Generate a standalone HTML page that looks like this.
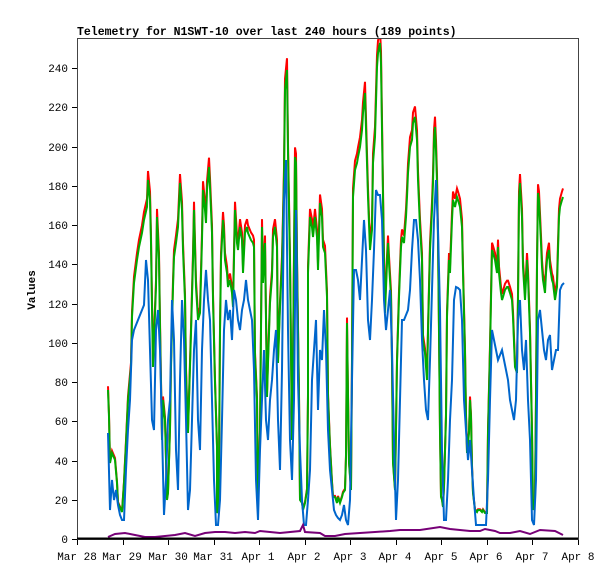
<!DOCTYPE html>
<html><head><meta charset="utf-8"><style>
html,body{margin:0;padding:0;background:#fff;}
svg{display:block;}
text{font-family:"Liberation Mono","DejaVu Sans Mono",monospace;font-size:11px;fill:#000;}
</style></head><body>
<svg width="615" height="579" viewBox="0 0 615 579" xmlns="http://www.w3.org/2000/svg">
<rect x="0" y="0" width="615" height="579" fill="#fff"/>
<text x="77" y="35" font-weight="bold" style="font-size:11.5px">Telemetry for N1SWT-10 over last 240 hours (189 points)</text>
<g stroke="#000" stroke-width="1">
<line x1="72" y1="539.5" x2="77" y2="539.5"/><line x1="72" y1="500.5" x2="77" y2="500.5"/><line x1="72" y1="461.5" x2="77" y2="461.5"/><line x1="72" y1="421.5" x2="77" y2="421.5"/><line x1="72" y1="382.5" x2="77" y2="382.5"/><line x1="72" y1="343.5" x2="77" y2="343.5"/><line x1="72" y1="304.5" x2="77" y2="304.5"/><line x1="72" y1="264.5" x2="77" y2="264.5"/><line x1="72" y1="225.5" x2="77" y2="225.5"/><line x1="72" y1="186.5" x2="77" y2="186.5"/><line x1="72" y1="147.5" x2="77" y2="147.5"/><line x1="72" y1="107.5" x2="77" y2="107.5"/><line x1="72" y1="68.5" x2="77" y2="68.5"/>
</g>
<g text-anchor="end">
<text x="68" y="543">0</text><text x="68" y="504">20</text><text x="68" y="465">40</text><text x="68" y="425">60</text><text x="68" y="386">80</text><text x="68" y="347">100</text><text x="68" y="308">120</text><text x="68" y="268">140</text><text x="68" y="229">160</text><text x="68" y="190">180</text><text x="68" y="151">200</text><text x="68" y="111">220</text><text x="68" y="72">240</text>
</g>
<text x="0" y="0" transform="translate(35,290) rotate(-90)" text-anchor="middle" font-weight="bold">Values</text>
<g stroke="#000" stroke-width="1">
<line x1="77.5" y1="539" x2="77.5" y2="545"/><line x1="123.5" y1="539" x2="123.5" y2="545"/><line x1="168.5" y1="539" x2="168.5" y2="545"/><line x1="214.5" y1="539" x2="214.5" y2="545"/><line x1="259.5" y1="539" x2="259.5" y2="545"/><line x1="305.5" y1="539" x2="305.5" y2="545"/><line x1="350.5" y1="539" x2="350.5" y2="545"/><line x1="396.5" y1="539" x2="396.5" y2="545"/><line x1="441.5" y1="539" x2="441.5" y2="545"/><line x1="487.5" y1="539" x2="487.5" y2="545"/><line x1="532.5" y1="539" x2="532.5" y2="545"/><line x1="578.5" y1="539" x2="578.5" y2="545"/>
</g>
<g text-anchor="middle">
<text x="77" y="560">Mar 28</text><text x="122" y="560">Mar 29</text><text x="168" y="560">Mar 30</text><text x="213" y="560">Mar 31</text><text x="258" y="560">Apr 1</text><text x="304" y="560">Apr 2</text><text x="350" y="560">Apr 3</text><text x="395" y="560">Apr 4</text><text x="441" y="560">Apr 5</text><text x="486" y="560">Apr 6</text><text x="532" y="560">Apr 7</text><text x="578" y="560">Apr 8</text>
</g>
<defs>
<clipPath id="cp"><rect x="78" y="39" width="500" height="500"/></clipPath>
<polyline id="g" points="108,390 109,417 110,463 112,453 115,460 117,483 118,503 122,512 124,483 126,443 128,400 131,367 132,317 134,283 137,260 139,247 142,233 144,220 147,207 148,180 150,200 151,243 152,307 153,367 154,340 156,287 157,217 159,260 160,327 162,440 163,400 165,420 167,500 168,493 170,430 171,367 173,287 174,257 176,243 178,227 180,183 182,210 183,250 185,300 186,373 188,433 189,400 191,333 193,260 194,210 196,287 198,320 200,313 202,240 203,190 205,210 206,223 207,190 209,167 210,187 212,233 213,300 215,383 217,447 217,513 218,510 219,467 220,333 221,260 223,220 224,233 225,260 227,273 228,287 230,280 232,293 233,307 235,210 237,243 238,250 240,227 242,240 243,273 245,233 247,227 248,233 251,240 253,243 254,247 255,357 257,400 258,507 260,433 262,227 263,283 265,243 267,397 268,363 270,303 272,277 273,237 275,227 277,247 278,363 280,307 282,263 283,223 284,177 285,90 287,70 288,153 290,263 292,440 293,363 295,157 296,163 297,263 299,397 300,500 302,503 303,510 305,503 307,490 308,397 308,273 310,217 312,227 313,237 315,217 317,237 318,270 320,203 322,217 323,247 325,253 327,297 328,397 330,447 332,483 333,497 335,497 337,503 338,497 340,503 342,497 343,493 345,490 346,457 347,323 348,397 349,463 351,490 352,363 353,197 355,170 357,163 358,157 360,147 362,130 363,113 365,93 367,163 368,197 370,250 372,230 373,163 375,137 377,67 378,53 380,43 381,63 383,197 384,263 385,313 387,263 388,243 389,263 391,297 392,363 393,463 395,490 396,430 397,363 399,297 401,247 402,237 404,243 406,217 407,197 408,173 410,147 412,140 413,123 415,117 417,140 418,180 420,227 422,260 423,340 425,353 427,380 428,333 430,250 432,210 433,183 434,140 435,127 436,150 437,183 438,240 439,333 440,433 441,497 442,500 443,507 444,487 446,417 447,317 449,260 450,273 452,220 453,200 455,207 457,197 458,200 460,207 462,227 463,273 465,353 466,417 467,453 469,433 470,400 471,417 472,467 473,493 475,510 477,512 478,510 480,510 482,512 483,510 485,513 487,513 488,433 490,350 491,300 492,250 493,253 495,260 497,273 498,247 499,273 501,293 502,300 503,297 505,290 507,287 508,287 510,293 512,300 513,317 515,367 517,373 518,300 519,200 520,183 522,217 523,267 525,300 527,260 528,277 530,333 532,433 533,510 535,500 536,400 537,267 538,193 539,200 541,243 542,267 543,280 545,293 546,273 547,260 549,250 550,267 552,280 553,283 555,300 557,287 558,250 559,217 560,207 562,200 563,197"/>
</defs>
<g clip-path="url(#cp)">
<use href="#g" transform="translate(0,-13.5) scale(1,1.025)" fill="none" stroke="#ff0000" stroke-width="2"/>
<use href="#g" fill="none" stroke="#00aa00" stroke-width="2"/>
<polyline fill="none" stroke="#0066cc" stroke-width="2" points="108,433 110,510 112,480 114,500 116,490 118,505 120,515 122,520 124,520 126,470 128,430 130,400 132,340 134,330 136,325 138,320 140,315 142,310 144,305 146,260 148,280 150,350 152,420 154,430 156,330 158,310 160,350 162,430 164,515 166,480 168,420 170,400 172,300 174,340 176,450 178,490 180,380 182,300 184,340 186,420 188,510 190,490 192,420 194,350 196,320 198,420 200,450 202,350 204,300 206,270 208,300 210,320 212,400 214,480 216,525 218,525 220,500 222,420 224,330 226,300 228,320 230,310 232,340 234,290 236,300 238,320 240,330 242,310 244,300 246,280 248,300 250,310 252,320 254,370 256,480 258,520 260,450 262,400 264,350 266,420 268,440 270,400 272,380 274,350 276,330 278,420 280,470 282,370 284,200 286,160 288,330 290,440 292,480 294,400 296,210 298,380 300,450 302,500 304,525 306,525 308,500 310,470 312,380 314,350 316,320 318,410 320,350 322,360 324,310 326,350 328,430 330,470 332,490 334,510 336,515 338,518 340,520 342,515 344,505 346,520 348,525 350,500 352,380 354,270 356,270 358,280 360,300 362,260 364,220 366,250 368,320 370,340 372,300 374,250 376,190 378,195 380,195 382,220 384,300 386,330 388,310 390,290 392,350 394,440 396,520 398,480 400,400 402,320 404,320 406,315 408,310 410,290 412,250 414,220 416,220 418,240 420,280 422,340 424,380 426,410 428,420 430,360 432,290 434,220 436,180 438,230 440,310 442,450 444,520 446,520 448,480 450,420 452,380 454,300 456,287 458,288 460,290 462,320 464,400 466,430 468,460 470,440 472,470 474,500 476,525 478,525 480,525 482,525 484,525 486,525 488,480 490,400 492,330 494,340 496,350 498,360 500,355 502,350 504,360 506,370 508,380 510,400 512,410 514,420 516,400 518,320 520,300 522,350 524,370 526,340 528,400 530,440 532,520 534,525 536,480 538,320 540,310 542,330 544,350 546,360 548,340 550,335 552,370 554,360 556,350 558,350 560,290 562,285 564,283"/>
<polyline fill="none" stroke="#770077" stroke-width="2" points="108,537 115,534 125,533 135,535 145,537 155,537 165,536 175,535 185,533 195,536 205,533 215,532 225,532 235,533 245,532 255,533 260,531 270,532 280,533 300,531 303,525 305,532 320,533 325,536 335,536 345,534 360,533 375,532 390,531 400,530 420,530 440,527 450,529 470,531 480,531 485,529 495,531 500,533 510,533 520,531 530,534 540,530 555,531 563,535"/>
</g>
<rect x="77.5" y="38.5" width="501" height="501" fill="none" stroke="#444" stroke-width="1"/>
<line x1="77" y1="538.5" x2="578" y2="538.5" stroke="#000" stroke-width="2"/>
</svg>
</body></html>
